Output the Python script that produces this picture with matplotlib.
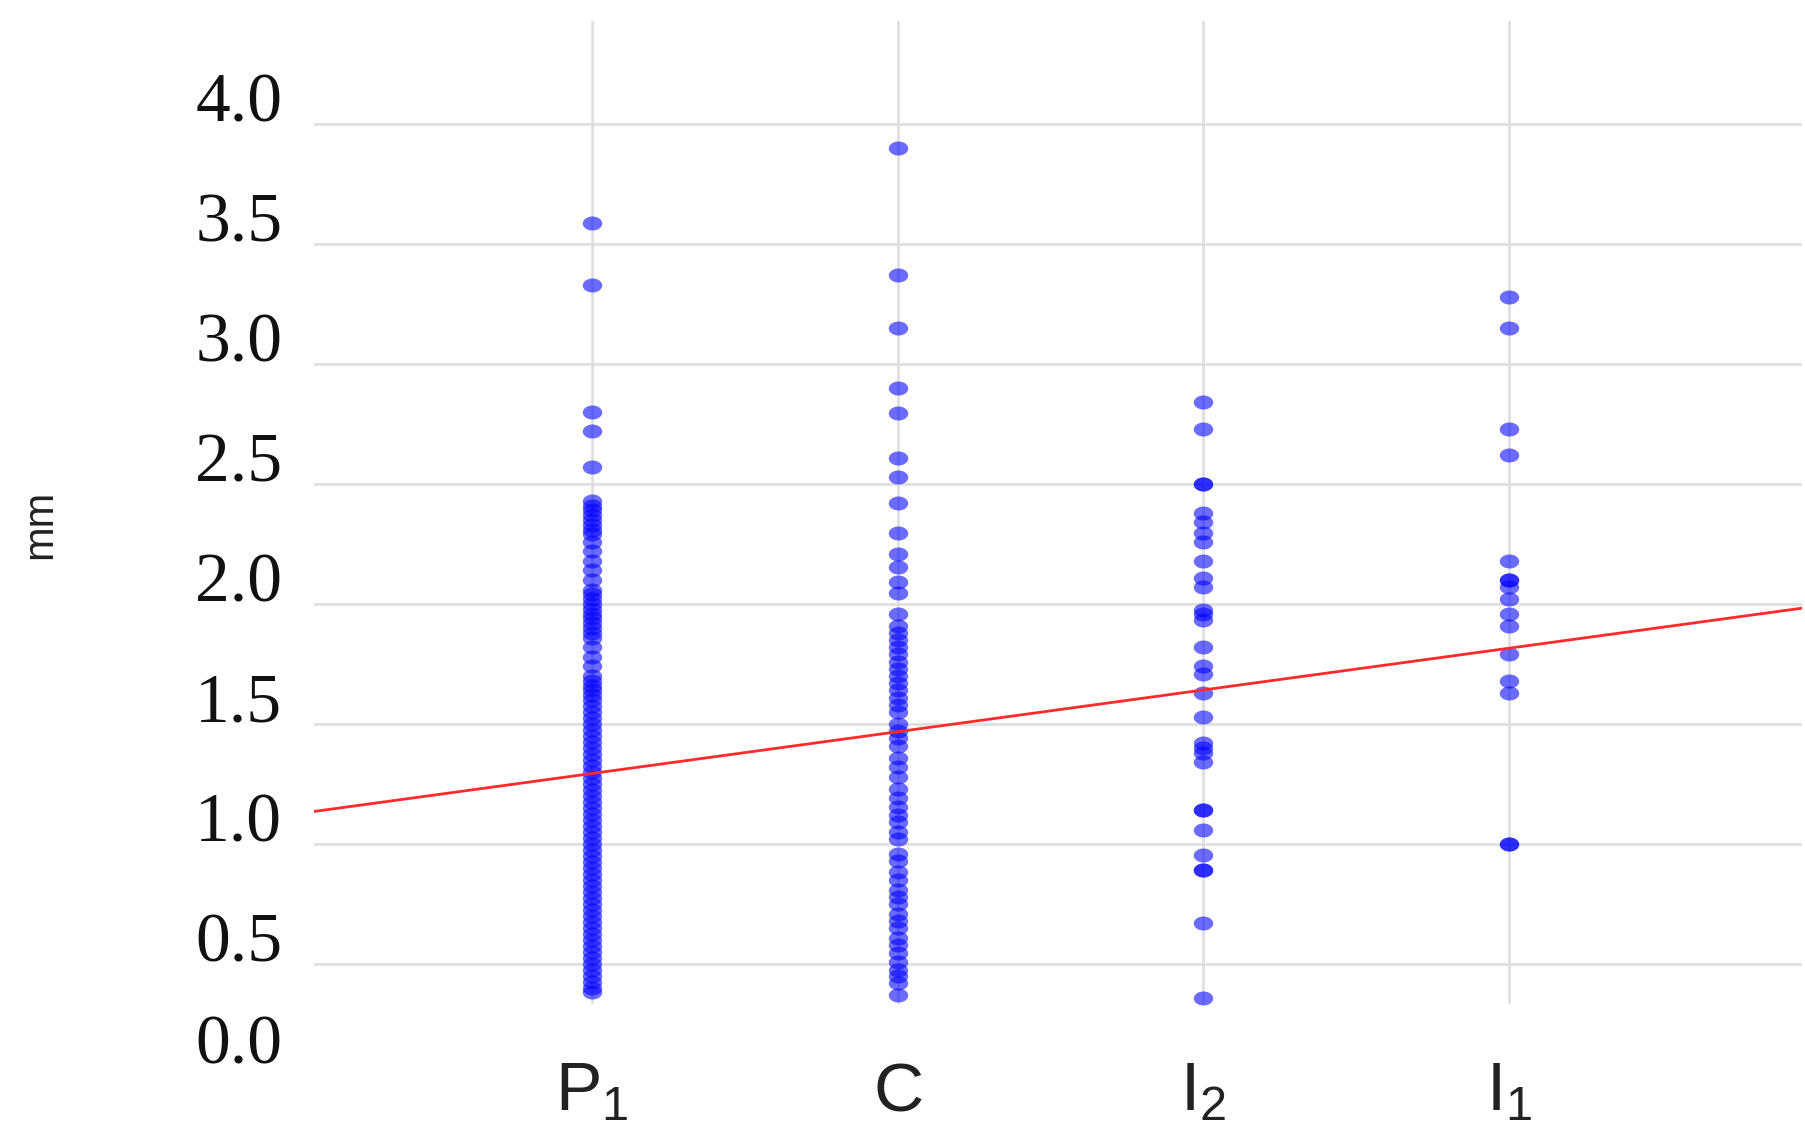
import numpy as np
import matplotlib
matplotlib.use("Agg")
import matplotlib.pyplot as plt
from matplotlib.path import Path
from matplotlib.transforms import ScaledTranslation

# --- Data (mm) ---
categories = ["P_1", "C", "I_2", "I_1"]

p1_vals = [3.59, 3.33, 2.80, 2.72, 2.57,
           2.43, 2.41, 2.39, 2.37, 2.35, 2.33, 2.31, 2.29,
           2.26, 2.22, 2.18, 2.14, 2.10, 2.06,
           2.04, 2.02, 2.00, 1.98, 1.96, 1.94, 1.92, 1.90, 1.88, 1.86,
           1.82, 1.78, 1.74, 1.70,
           1.68, 1.66, 1.64, 1.62, 1.60,
           1.575, 1.55, 1.525, 1.50, 1.475, 1.45, 1.425, 1.40, 1.375, 1.35,
           1.325, 1.30, 1.275, 1.25, 1.225, 1.20, 1.175, 1.15, 1.125, 1.10,
           1.075, 1.05, 1.025, 1.00, 0.975, 0.95, 0.925, 0.90, 0.875, 0.85,
           0.825, 0.80, 0.775, 0.75, 0.725, 0.70, 0.675, 0.65, 0.625, 0.60,
           0.575, 0.55, 0.525, 0.50, 0.475, 0.45, 0.425, 0.40, 0.385]

c_vals = [3.90, 3.37, 3.15, 2.90, 2.795, 2.61, 2.53, 2.42, 2.295, 2.21,
          2.155, 2.09, 2.045, 1.96,
          1.91, 1.88, 1.85, 1.82, 1.79, 1.76, 1.73, 1.70, 1.67, 1.64, 1.61,
          1.58, 1.55, 1.50, 1.47, 1.44, 1.41, 1.36, 1.32, 1.28, 1.23, 1.19,
          1.155, 1.12, 1.09, 1.05, 1.02, 0.96, 0.93, 0.885, 0.85, 0.81, 0.78,
          0.75, 0.71, 0.68, 0.65, 0.61, 0.58, 0.545, 0.51, 0.475, 0.45, 0.42,
          0.37]

i2_vals = [2.84, 2.73, 2.50, 2.50, 2.38, 2.34, 2.295, 2.26, 2.18, 2.11,
           2.07, 1.975, 1.96, 1.935, 1.82, 1.74, 1.71, 1.63, 1.53, 1.42,
           1.40, 1.38, 1.34, 1.14, 1.14, 1.06, 0.955, 0.89, 0.89, 0.67, 0.36]

i1_vals = [3.28, 3.15, 2.73, 2.62, 2.18, 2.10, 2.10, 2.07, 2.02, 1.96,
           1.91, 1.79, 1.68, 1.63, 1.00, 1.00]

series = [p1_vals, c_vals, i2_vals, i1_vals]

# fitted trend line: y = intercept + slope * x
fit_intercept = 1.12
fit_slope = 0.174

y_ticks = [0.0, 0.5, 1.0, 1.5, 2.0, 2.5, 3.0, 3.5, 4.0]

# --- Figure ---
fig = plt.figure(figsize=(18.06, 11.35), dpi=100)
ax = fig.add_axes([0.174, 0.045, 0.824, 0.9365])
ax.set_xlim(0.09, 4.96)
ax.set_ylim(0, 4.43)

for s in ax.spines.values():
    s.set_visible(False)

grid_col = "#dedede"
for yv in y_ticks[1:]:
    ax.axhline(yv, color=grid_col, lw=1.9, zorder=0)
for xi in range(1, len(categories) + 1):
    ax.axvline(xi, ymin=0.34 / 4.43, ymax=1, color=grid_col, lw=1.9, zorder=0)

# flattened ellipse marker
t = np.linspace(0, 2 * np.pi, 41)
ell = Path(np.column_stack([np.cos(t), 0.72 * np.sin(t)]), closed=True)

for i, vals in enumerate(series):
    ax.plot(np.full(len(vals), i + 1), vals, linestyle="none", marker=ell,
            ms=14, color=(0, 0, 1), alpha=0.58, mec="none", zorder=2)

ax.axline((0, fit_intercept), slope=fit_slope, color="#ff2a2a", lw=2.0, zorder=3)

# ticks
ax.set_xticks(range(1, len(categories) + 1))
ax.set_xticklabels([r"$\mathregular{%s}$" % c for c in categories],
                   fontfamily="Liberation Sans", fontsize=50, color="#222222")
ax.tick_params(axis="x", length=0, pad=-17)

ax.set_yticks(y_ticks)
ax.set_yticklabels([f"{v:.1f}" for v in y_ticks],
                   fontfamily="Liberation Serif", fontsize=50, color="#111111")
ax.tick_params(axis="y", length=0, pad=23)
for k, lab in enumerate(ax.get_yticklabels()):
    dy = 0.45 if k == 0 else 0.27
    lab.set_transform(lab.get_transform() + ScaledTranslation(0, dy, fig.dpi_scale_trans))

fig.text(40 / 1806, 1 - 524 / 1135, "mm", rotation=90, ha="center", va="center",
         fontfamily="Liberation Sans", fontsize=30, color="#222222")

fig.savefig("out.png", dpi=100, facecolor="white")
